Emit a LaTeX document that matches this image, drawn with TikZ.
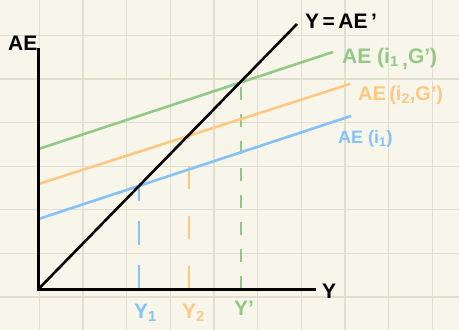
\documentclass[tikz,border=0pt]{standalone}
\usepackage{fontspec}
\setmainfont{Liberation Sans}
\definecolor{bg}{HTML}{F8F6EA}
\definecolor{gridc}{HTML}{E2DED0}
\definecolor{aeblue}{HTML}{84C2F9}
\definecolor{aeorange}{HTML}{FDC982}
\definecolor{aegreen}{HTML}{92C987}
\tikzset{
  axisline/.style={line width=3pt, black},
  curve/.style={line width=2.6pt},
  lbl/.style={inner sep=0pt, anchor=west, font=\fontsize{21}{21}\selectfont\bfseries},
  dropblue/.style={line width=2.6pt, aeblue, dash pattern=on 24pt off 20pt},
  droporange/.style={line width=2.6pt, aeorange, dash pattern=on 23pt off 27pt},
  dropgreen/.style={line width=2.6pt, aegreen, dash pattern=on 13pt off 14pt},
}
\begin{document}
\begin{tikzpicture}[x=1pt,y=-1pt]
\useasboundingbox (0,0) rectangle (459,330);
\fill[bg] (0,0) rectangle (459,330);
% grid
\foreach \k in {0,...,9} {\draw[gridc, line width=1.2pt] ({39.3+43.66*\k},0) -- ({39.3+43.66*\k},330);}
\foreach \k in {0,...,6} {\draw[gridc, line width=1.2pt] (0,{35.4+43.6*\k}) -- (459,{35.4+43.6*\k});}
% coordinates
\coordinate (O) at (38.5,289);
\coordinate (ytop) at (38.5,48);
\coordinate (xend) at (316,289);
\coordinate (diagend) at (297,24);
\coordinate (g0) at (38.5,149);
\coordinate (g1) at (333,52);
\coordinate (o0) at (38.5,184);
\coordinate (o1) at (350,84);
\coordinate (b0) at (38.5,219);
\coordinate (b1) at (351,116);
\coordinate (Eb) at (139,186);
\coordinate (Eo) at (189,136);
\coordinate (Eg) at (241,83);
\coordinate (Fb) at (139,289);
\coordinate (Fo) at (189,289);
\coordinate (Fg) at (241,289);
% dashed drops
\draw[dropblue] (Fb) -- (Eb);
\draw[droporange] (Fo) -- (Eo);
\draw[dropgreen] (Fg) -- (Eg);
% AE lines
\draw[curve, aegreen] (g0) -- (g1);
\draw[curve, aeorange] (o0) -- (o1);
\draw[curve, aeblue] (b0) -- (b1);
% 45 degree line
\draw[axisline, line width=2.6pt] (O) -- (diagend);
% axes
\draw[axisline] (ytop) -- (O) -- (xend);
% labels
\node[lbl] (laey) at (8,43) {AE};
\node[lbl] (lyx) at (322,291) {Y};
\node[lbl] (l45) at (305,21) {Y\,=\,AE\,'};
\node[lbl, text=aegreen] (lg) at (342,59) {AE (i\textsubscript{1}\,\raisebox{-3pt}{,}G')};
\node[lbl, text=aeorange, font=\fontsize{20}{20}\selectfont\bfseries] (lo) at (358,95) {AE\,(i\textsubscript{2},G')};
\node[lbl, text=aeblue, font=\fontsize{18}{18}\selectfont\bfseries] (lb) at (338,139) {AE (i\textsubscript{1})};
\node[lbl, text=aeblue] (ly1) at (134,313) {Y\textsubscript{1}};
\node[lbl, text=aeorange] (ly2) at (182,313) {Y\textsubscript{2}};
\node[lbl, text=aegreen] (lyp) at (234,308) {Y'};
\end{tikzpicture}
\end{document}
